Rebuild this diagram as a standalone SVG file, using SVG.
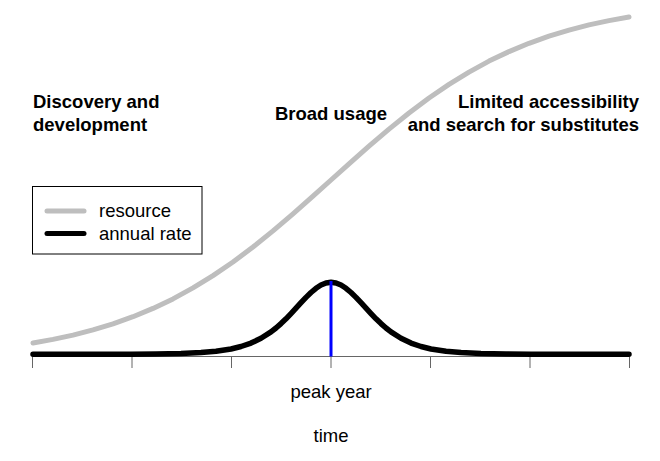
<svg xmlns="http://www.w3.org/2000/svg" width="660" height="461" viewBox="0 0 660 461">
<style>
.t{font-family:"Liberation Sans",Arial,sans-serif;font-size:18.5px;fill:#000}
.b{font-weight:bold}
.curve{fill:none;stroke-linecap:round;stroke-linejoin:round}
.tick{stroke:#666;stroke-width:1;fill:none}
</style>
<rect width="660" height="461" fill="#fff"/>
<g id="axis">
<line class="tick" x1="32.5" y1="356.5" x2="629.5" y2="356.5" stroke="#999"/>
<path class="tick" d="M32.5 356.5V368M132 356.5V368M231.5 356.5V368M331 356.5V368M430.5 356.5V368M530 356.5V368M629.5 356.5V368"/>
<text class="t" x="331" y="398" text-anchor="middle">peak year</text>
<text class="t" x="331" y="442" text-anchor="middle">time</text>
</g>
<g id="connectors">
<polyline id="resource-curve" class="curve" stroke="#bebebe" stroke-width="5" points="33,343 53,339.4 73,335.1 93,329.9 113,323.8 133,316.7 153,308.4 173,298.9 193,287.9 213,275.6 233,262 253,247 273,230.9 293,213.9 313,196.2 331,180 349,163.8 369,146.1 389,129.1 409,113 429,98 449,84.4 469,72.1 489,61.1 509,51.6 529,43.3 549,36.2 569,30.1 589,24.9 609,20.6 629,17"/>
<polyline id="rate-curve" class="curve" stroke="#000" stroke-width="5.5" points="33,354.3 131,354.2 156,354 181,353.55 201,352.6 216,351.3 231,349 241,346.5 251,343.1 261,338.3 271,331.9 276,328 281,323.6 286,318.8 291,313.6 296,308.2 301,302.7 306,297.4 311,292.5 316,288.3 321,285.05 326,283 331,282.3 336,283 341,285.05 346,288.3 351,292.5 356,297.4 361,302.7 366,308.2 371,313.6 376,318.8 381,323.6 386,328 391,331.9 401,338.3 411,343.1 421,346.5 431,349 446,351.3 461,352.6 481,353.55 506,354 531,354.2 629,354.3"/>
<line id="peak-line" x1="331" y1="281" x2="331" y2="356.5" stroke="#0000ff" stroke-width="3"/>
</g>
<g id="label-discovery">
<text class="t b" x="33" y="108">Discovery and</text>
<text class="t b" x="33" y="131">development</text>
</g>
<g id="label-broad">
<text class="t b" x="331" y="119.5" text-anchor="middle">Broad usage</text>
</g>
<g id="label-limited">
<text class="t b" x="639" y="108" text-anchor="end">Limited accessibility</text>
<text class="t b" x="639" y="131" text-anchor="end">and search for substitutes</text>
</g>
<g id="legend">
<rect x="32.5" y="186.5" width="169.5" height="67.5" fill="#fff" stroke="#000" stroke-width="1"/>
<line x1="47" y1="211" x2="84" y2="211" stroke="#bebebe" stroke-width="5" stroke-linecap="round"/>
<line x1="47" y1="233.5" x2="84" y2="233.5" stroke="#000" stroke-width="5" stroke-linecap="round"/>
<text class="t" x="99" y="217">resource</text>
<text class="t" x="99" y="239.5">annual rate</text>
</g>
</svg>
